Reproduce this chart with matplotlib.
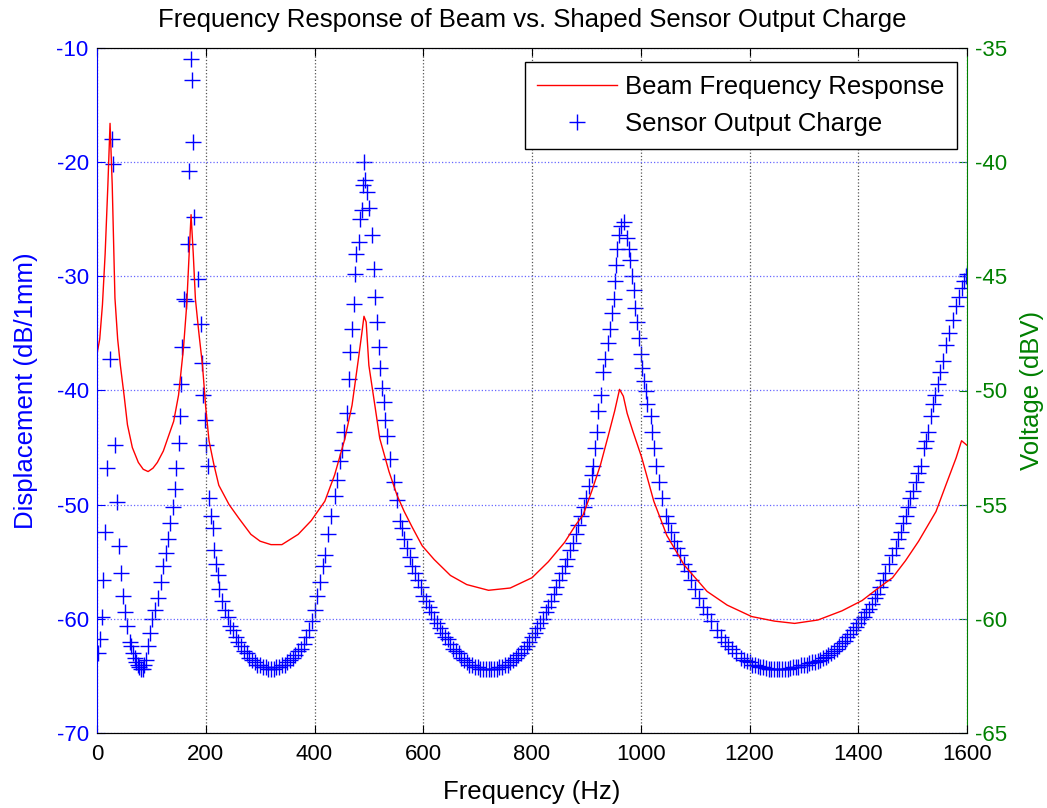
import matplotlib as mlt
mlt.use('Agg')
import matplotlib.pyplot as plt

plt.rcParams['font.family'] = ['Liberation Sans', 'DejaVu Sans']
plt.rcParams['axes.unicode_minus'] = False

# beam displacement (left axis, dB/1mm)
beam_f = [0, 5, 10, 15, 20, 24, 28, 33, 38, 43, 50, 56, 65, 76, 85, 94, 103, 111,
          122, 130, 141, 150, 159, 165, 170, 173, 177, 181, 187, 194, 200, 206, 215,
          224, 243, 261, 283, 300, 320, 340, 370, 394, 419, 437, 456, 469, 480, 487,
          491, 495, 500, 511, 520, 537, 552, 565, 580, 598, 620, 650, 680, 720, 760,
          800, 830, 860, 880, 894, 910, 926, 940, 952, 961, 968, 975, 985, 1002, 1024,
          1048, 1080, 1122, 1159, 1204, 1246, 1283, 1326, 1370, 1407, 1437, 1463,
          1487, 1511, 1543, 1561, 1580, 1590, 1600]
beam_db = [-36.8, -35.5, -32.5, -28.0, -22.0, -16.6, -22.0, -31.9, -35.5, -37.8,
           -40.5, -43.0, -45.0, -46.3, -46.9, -47.1, -46.8, -46.3, -45.3, -44.2, -42.7,
           -40.4, -36.3, -32.5, -27.5, -24.6, -28.0, -32.0, -34.8, -37.8, -41.5, -44.4,
           -46.5, -48.3, -50.0, -51.2, -52.6, -53.2, -53.5, -53.5, -52.6, -51.4, -49.7,
           -47.4, -44.2, -41.3, -37.5, -35.0, -33.5, -34.0, -37.8, -41.3, -44.2, -47.1,
           -49.2, -50.6, -52.0, -53.6, -54.8, -56.2, -57.0, -57.5, -57.3, -56.4, -55.0,
           -53.3, -51.8, -50.9, -48.8, -46.5, -44.0, -41.8, -39.9, -40.5, -42.0, -43.5,
           -45.9, -49.7, -52.7, -55.3, -57.6, -58.8, -59.8, -60.2, -60.4, -60.1, -59.3,
           -58.4, -57.3, -56.4, -54.9, -53.2, -50.6, -48.3, -45.9, -44.4, -44.8]

# shaped sensor output (right axis, dBV)
sensor_f = [
    2, 6, 9, 11, 15, 19, 24, 28, 30, 33, 37, 41, 44, 48, 52, 56, 61, 63, 66, 69, 72,
    75, 78, 81, 84, 87, 90, 94, 98, 102, 106, 113, 118, 122, 126, 130, 135, 139, 143,
    146, 150, 152, 154, 157, 160, 163, 167, 169, 172, 174, 177, 179, 185, 191, 193,
    195, 198, 200, 204, 206, 209, 213, 215, 218, 222, 224,
    230, 235, 240, 245, 250, 255, 260, 265, 270, 275, 280, 285, 290, 295, 300, 305,
    310, 315, 320, 325, 330, 335, 340, 345, 350, 355, 360, 365, 370, 375, 380, 385,
    390, 395, 400, 405, 410, 415,
    419, 425, 431, 437, 441, 446, 450, 454, 459, 463, 465, 469, 472, 474, 477, 481,
    484, 487, 489, 491, 493, 496, 500, 506, 509, 511, 515, 518, 520, 524, 528, 530,
    533, 539, 546, 552, 557,
    560, 565, 570, 575, 580, 585, 590, 595, 600, 605, 610, 615, 620, 625, 630, 635,
    640, 645, 650, 655, 660, 665, 670, 675, 680, 685, 690, 695, 700, 705, 710, 715,
    720, 725, 730, 735, 740, 745, 750, 755, 760, 765, 770, 775, 780, 785, 790, 795,
    800, 805, 810, 815, 820, 825, 830, 835, 840, 845, 850, 855, 860, 865, 870, 875,
    880, 885, 890, 895, 900, 905, 910,
    913, 916, 919, 922, 926, 931, 935, 939, 943, 947, 950, 953, 955, 957, 960, 964,
    969, 974, 978, 981, 983, 987, 990, 993, 996, 1000, 1003, 1006, 1009, 1012, 1018,
    1021, 1024, 1028, 1033, 1039,
    1046, 1050, 1056, 1061, 1067, 1073, 1080, 1086, 1092, 1100, 1107, 1115, 1122,
    1130, 1141, 1148, 1155, 1160, 1167, 1175, 1185, 1190, 1195, 1200, 1205, 1210,
    1215, 1220, 1225, 1230, 1235, 1240, 1245, 1250, 1255, 1260, 1265, 1270, 1275,
    1280, 1285, 1290, 1295, 1300, 1305, 1310, 1315, 1320, 1326, 1330, 1335, 1340,
    1345, 1350, 1355, 1360, 1365, 1370, 1375, 1380, 1385, 1390, 1395, 1400, 1405,
    1410, 1415, 1420, 1425, 1430, 1435, 1440, 1445, 1450,
    1456, 1462, 1469, 1474, 1478, 1483, 1487, 1492, 1496, 1501, 1506, 1510, 1515,
    1520, 1524, 1528, 1533, 1537, 1541, 1546, 1551, 1556, 1561, 1567, 1574, 1580,
    1585, 1590, 1594, 1598, 1600]
sensor_dbv = [
    -61.5, -60.9, -59.9, -58.3, -56.2, -53.4, -48.6, -39.0, -40.1, -52.4, -54.9,
    -56.8, -58.0, -59.0, -59.7, -60.3, -61.0, -61.2, -61.5, -61.7, -61.9, -62.0,
    -62.1, -62.2, -62.2, -62.0, -61.8, -61.2, -60.6, -60.0, -59.6, -59.1, -58.4,
    -57.7, -57.1, -56.5, -55.8, -55.1, -54.3, -53.4, -52.3, -51.1, -49.7, -48.1,
    -46.0, -46.1, -43.6, -40.4, -35.5, -36.4, -39.1, -42.4, -45.1, -47.1, -48.8,
    -50.2, -51.3, -52.4, -53.3, -54.7, -55.5, -56.0, -57.0, -57.6, -58.1, -58.7,
    -59.2, -59.6, -59.9, -60.3, -60.5, -60.8, -61.0, -61.2, -61.4, -61.5, -61.7,
    -61.8, -61.9, -62.0, -62.0, -62.1, -62.1, -62.2, -62.2, -62.2, -62.1, -62.1,
    -62.0, -62.0, -61.9, -61.8, -61.7, -61.6, -61.4, -61.3, -61.1, -60.8, -60.5,
    -60.1, -59.6, -59.0, -58.4, -57.7,
    -57.2, -56.3, -55.5, -54.6, -53.9, -53.1, -52.6, -51.8, -51.0, -49.5, -48.3,
    -47.3, -46.2, -44.9, -44.0, -43.5, -42.5, -42.1, -41.0, -40.0, -40.8, -41.3,
    -42.0, -43.2, -44.7, -45.9, -47.0, -48.1, -49.0, -49.9, -50.5, -51.3, -52.0,
    -53.0, -54.0, -54.8, -55.7,
    -56.0, -56.5, -56.9, -57.3, -57.7, -58.0, -58.3, -58.6, -59.0, -59.2, -59.5,
    -59.7, -60.0, -60.2, -60.4, -60.6, -60.8, -60.9, -61.1, -61.3, -61.4, -61.5,
    -61.7, -61.8, -61.9, -62.0, -62.0, -62.1, -62.1, -62.2, -62.2, -62.2, -62.2,
    -62.2, -62.2, -62.2, -62.1, -62.1, -62.0, -62.0, -61.9, -61.8, -61.7, -61.6,
    -61.5, -61.3, -61.2, -61.0, -60.8, -60.6, -60.4, -60.2, -60.0, -59.7, -59.5,
    -59.2, -58.9, -58.6, -58.3, -58.0, -57.7, -57.4, -57.0, -56.7, -56.3, -55.9,
    -55.5, -55.1, -54.7, -54.2, -53.7,
    -53.3, -52.5, -51.8, -50.9, -50.2, -49.2, -48.6, -47.9, -47.3, -46.6, -46.0,
    -45.2, -44.5, -43.8, -43.2, -42.8, -42.6, -43.3, -43.8, -44.3, -45.0, -45.6,
    -46.4, -47.0, -47.7, -48.4, -49.0, -49.6, -50.0, -50.6, -51.1, -51.8, -52.5,
    -53.3, -54.0, -54.7,
    -55.5, -55.8, -56.2, -56.6, -56.9, -57.2, -57.6, -57.9, -58.3, -58.7, -59.1,
    -59.5, -59.8, -60.1, -60.5, -60.8, -61.0, -61.2, -61.3, -61.5, -61.7, -61.8,
    -61.85, -61.9, -62.0, -62.0, -62.05, -62.1, -62.1, -62.15, -62.2, -62.2, -62.2,
    -62.2, -62.2, -62.2, -62.2, -62.2, -62.15, -62.1, -62.1, -62.1, -62.0, -62.0,
    -62.0, -61.95, -61.9, -61.9, -61.85, -61.8, -61.7, -61.65, -61.6, -61.5, -61.4,
    -61.3, -61.2, -61.05, -60.95, -60.8, -60.65, -60.5, -60.35, -60.2, -60.0, -59.9,
    -59.7, -59.55, -59.35, -59.1, -58.9, -58.6, -58.3, -58.0,
    -57.6, -57.2, -56.9, -56.5, -56.2, -55.8, -55.5, -55.1, -54.7, -54.4, -54.0,
    -53.6, -53.3, -52.5, -52.2, -51.8, -51.1, -50.6, -50.2, -49.7, -49.2, -48.7,
    -48.0, -47.5, -46.9, -46.3, -45.9, -45.5, -45.2, -45.0, -44.9]

x_ticks = [0, 200, 400, 600, 800, 1000, 1200, 1400, 1600]
left_ticks = [-10, -20, -30, -40, -50, -60, -70]
right_ticks = [-35, -40, -45, -50, -55, -60, -65]

blue = '#0000ff'
green = '#008000'

fig = plt.figure(figsize=(10.47, 8.08), dpi=100)
ax1 = fig.add_axes([97 / 1047, 1 - 733 / 808, 870 / 1047, 685 / 808])
ax2 = ax1.twinx()
ax1.set_zorder(ax2.get_zorder() + 1)
ax1.patch.set_visible(False)

l1, = ax1.plot(beam_f, beam_db, color='red', linewidth=1.0,
               label='Beam Frequency Response')
l2, = ax2.plot(sensor_f, sensor_dbv, linestyle='none', marker='+', markersize=11,
               markeredgewidth=1.0, color=blue, label='Sensor Output Charge')

ax1.set_xlim(0, 1600)
ax1.set_ylim(-70, -10)
ax2.set_ylim(-65, -35)
ax1.set_xticks(x_ticks)
ax1.set_yticks(left_ticks)
ax2.set_yticks(right_ticks)

ax1.grid(True, axis='x', color='#555555', linestyle=':', linewidth=0.9)
ax1.grid(True, axis='y', color='#6666ff', linestyle=':', linewidth=0.9)

ax1.tick_params(axis='x', direction='in', top=True, length=6, labelsize=16, pad=8)
ax1.tick_params(axis='y', direction='in', left=True, right=False, length=6,
                colors=blue, labelsize=16, pad=6)
ax2.tick_params(axis='y', direction='in', length=6, colors=green, labelsize=16, pad=6)

ax1.spines['left'].set_color(blue)
ax1.spines['right'].set_visible(False)
ax2.spines['left'].set_visible(False)
ax2.spines['right'].set_color(green)

ax1.set_xlabel('Frequency (Hz)', fontsize=18.5, labelpad=11)
ax1.set_ylabel('Displacement (dB/1mm)', fontsize=18.5, color=blue, labelpad=13)
ax2.set_ylabel('Voltage (dBV)', fontsize=18.5, color=green, labelpad=9)
ax1.set_title('Frequency Response of Beam vs. Shaped Sensor Output Charge',
              fontsize=18.5, pad=15)

leg = ax1.legend([l1, l2], ['Beam Frequency Response', 'Sensor Output Charge'],
                 loc='upper right', bbox_to_anchor=(0.9885, 0.9796), borderaxespad=0,
                 fontsize=18.5, fancybox=False, edgecolor='black', framealpha=1,
                 handlelength=3.1, handletextpad=0.3, borderpad=0.5, labelspacing=0.5)
leg.get_frame().set_linewidth(1.0)

fig.savefig('out.png', dpi=100)
